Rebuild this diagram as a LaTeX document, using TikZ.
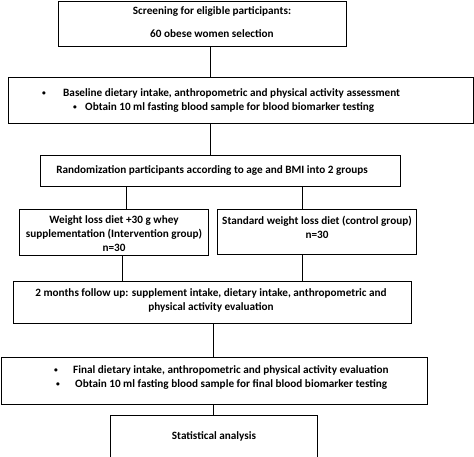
\documentclass[tikz,border=0pt]{standalone}
\usepackage{fontspec}
\setmainfont{Carlito}
\newcommand{\dotmark}{\raisebox{1pt}{\fontsize{7.5}{7.5}\selectfont\textbullet}}
\begin{document}
\begin{tikzpicture}[x=1pt,y=-1pt,
  box/.style={draw,line width=1pt,anchor=north west,inner sep=0pt},
  txt/.style={font=\bfseries\fontsize{11.2}{14}\selectfont,align=center,inner sep=0pt},
  link/.style={line width=0.9pt}]
\useasboundingbox (0,0) rectangle (474,457);
\node[box,minimum width=288pt,minimum height=45pt] (screen) at (58,0.7) {};
\node[box,minimum width=465pt,minimum height=46pt] (baseline) at (8,77) {};
\node[box,minimum width=360pt,minimum height=31pt] (random) at (40,155) {};
\node[box,minimum width=189pt,minimum height=46pt] (whey) at (19,209) {};
\node[box,minimum width=199pt,minimum height=45pt] (control) at (217,209) {};
\node[box,minimum width=398pt,minimum height=42pt] (follow) at (13,281) {};
\node[box,minimum width=426pt,minimum height=47pt] (final) at (0.7,357) {};
\node[box,minimum width=207pt,minimum height=41.5pt] (stats) at (110,415) {};
\node[txt] (screentext) at (212,22.3) {Screening for eligible participants:\\[9.3pt]60 obese women selection};
\node[txt,align=left,anchor=west] (baselinetext) at (42,100.5)
  {\makebox[21pt][l]{\dotmark}Baseline dietary intake, anthropometric and physical activity assessment\\
   \hspace*{31pt}\makebox[12pt][l]{\dotmark}Obtain 10 ml fasting blood sample for blood biomarker testing};
\node[txt] (randomtext) at (212,170.7) {Randomization participants according to age and BMI into 2 groups};
\node[txt] (wheytext) at (114,234) {Weight loss diet +30 g whey\\supplementation (Intervention group)\\n=30};
\node[txt] (controltext) at (317,227.5) {Standard weight loss diet (control group)\\n=30};
\node[txt] (followtext) at (211,300) {2 months follow up: supplement intake, dietary intake, anthropometric and\\physical activity evaluation};
\node[txt,align=left,anchor=west] (finaltext) at (54,378)
  {\makebox[19pt][l]{\dotmark}Final dietary intake, anthropometric and physical activity evaluation\\
   \hspace*{2pt}\makebox[19pt][l]{\dotmark}Obtain 10 ml fasting blood sample for final blood biomarker testing};
\node[txt] (statstext) at (214,436) {Statistical analysis};
\coordinate (ta) at (210,0);
\coordinate (tb) at (126,0);
\coordinate (tc) at (302,0);
\coordinate (td) at (122,0);
\coordinate (te) at (213,0);
\draw[link] (screen.south -| ta) -- (baseline.north -| ta);
\draw[link] (baseline.south -| ta) -- (random.north -| ta);
\draw[link] (random.south -| tb) -- (whey.north -| tb);
\draw[link] (random.south -| tc) -- (control.north -| tc);
\draw[link] (whey.south -| td) -- (follow.north -| td);
\draw[link] (control.south -| tc) -- (follow.north -| tc);
\draw[link] (follow.south -| te) -- (final.north -| te);
\draw[link] (final.south -| te) -- (stats.north -| te);
\end{tikzpicture}
\end{document}
